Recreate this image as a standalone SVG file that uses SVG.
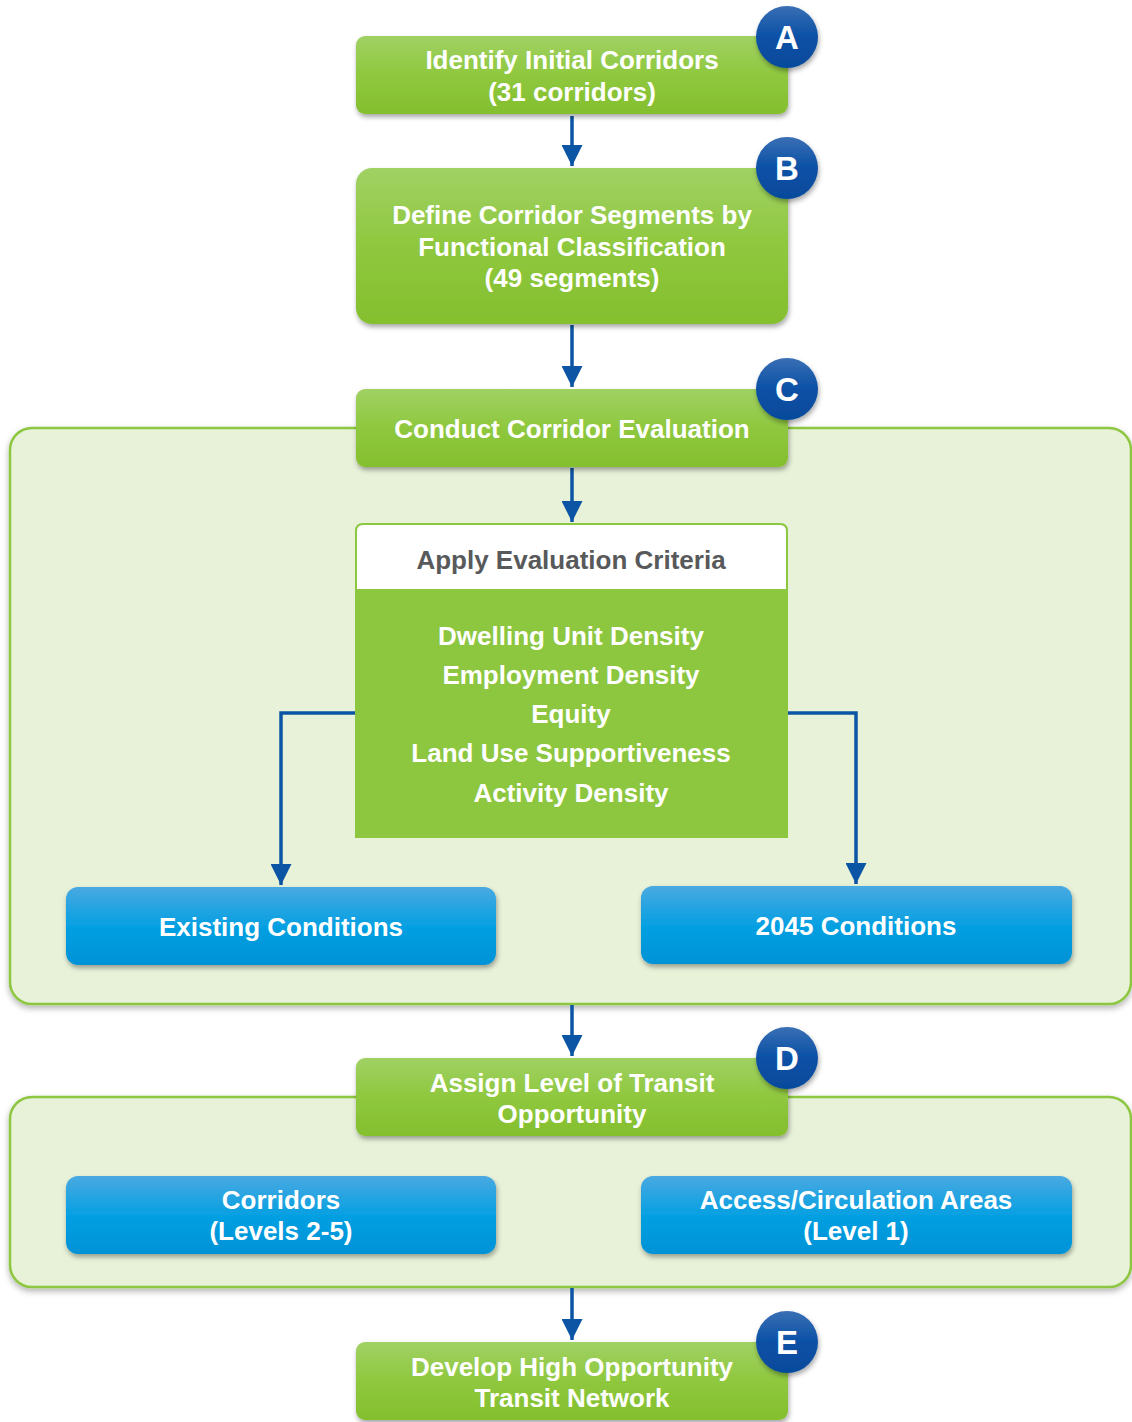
<svg xmlns="http://www.w3.org/2000/svg" width="1132" height="1422" viewBox="0 0 1132 1422">
<defs>
<linearGradient id="gGreen" x1="0" y1="0" x2="0" y2="1"><stop offset="0" stop-color="#a0d164"/><stop offset="0.5" stop-color="#8fc83e"/><stop offset="1" stop-color="#84bf2e"/></linearGradient>
<linearGradient id="gBlue" x1="0" y1="0" x2="0" y2="1"><stop offset="0" stop-color="#4aa9e1"/><stop offset="0.5" stop-color="#06a0e2"/><stop offset="1" stop-color="#0092d6"/></linearGradient>
<linearGradient id="gBadge" x1="0" y1="0" x2="0" y2="1"><stop offset="0" stop-color="#3a6fb5"/><stop offset="0.5" stop-color="#0a50a5"/><stop offset="1" stop-color="#064a9c"/></linearGradient>
<filter id="sh" x="-10%" y="-20%" width="120%" height="150%"><feDropShadow dx="1" dy="3" stdDeviation="2.5" flood-color="#000" flood-opacity="0.35"/></filter>
<filter id="shc" x="-10%" y="-10%" width="120%" height="130%"><feDropShadow dx="0" dy="3" stdDeviation="3" flood-color="#000" flood-opacity="0.3"/></filter>
<marker id="arr" viewBox="0 0 10 10" refX="10" refY="5" markerWidth="6" markerHeight="6" markerUnits="strokeWidth" orient="auto"><path d="M0,0 L10,5 L0,10 z" fill="#0b55a4"/></marker>
</defs>
<style>
.cont{fill:#e8f2d9;stroke:#8dc63f;stroke-width:2.5}
.gbox{fill:url(#gGreen)}
.bbox{fill:url(#gBlue)}
.t{font-family:"Liberation Sans",Arial,sans-serif;font-weight:bold;font-size:26px;fill:#fff;text-anchor:middle}
.hd{font-family:"Liberation Sans",Arial,sans-serif;font-weight:bold;font-size:26px;fill:#58595b;text-anchor:middle}
.bd{fill:url(#gBadge)}
.bl{font-family:"Liberation Sans",Arial,sans-serif;font-weight:bold;font-size:33px;fill:#fff;text-anchor:middle}
.con{fill:none;stroke:#0b55a4;stroke-width:3.5}
</style>
<g id="container1"><rect class="cont" x="10" y="428" width="1121" height="576" rx="22" filter="url(#shc)"/></g>
<g id="container2"><rect class="cont" x="10" y="1097" width="1121" height="190" rx="22" filter="url(#shc)"/></g>
<g id="connectors">
<line class="con" x1="572" y1="116" x2="572" y2="166" marker-end="url(#arr)"/>
<line class="con" x1="572" y1="325" x2="572" y2="387" marker-end="url(#arr)"/>
<line class="con" x1="572" y1="468" x2="572" y2="522" marker-end="url(#arr)"/>
<polyline class="con" points="356,713 281,713 281,885" marker-end="url(#arr)"/>
<polyline class="con" points="788,713 856,713 856,884" marker-end="url(#arr)"/>
<line class="con" x1="572" y1="1005" x2="572" y2="1056" marker-end="url(#arr)"/>
<line class="con" x1="572" y1="1288" x2="572" y2="1340" marker-end="url(#arr)"/>
</g>
<g id="nodeA"><rect class="gbox" x="356" y="36" width="432" height="78" rx="9" filter="url(#sh)"/>
<text class="t" x="572" y="69">Identify Initial Corridors</text><text class="t" x="572" y="101">(31 corridors)</text></g>
<g id="nodeB"><rect class="gbox" x="356" y="168" width="432" height="156" rx="16" filter="url(#sh)"/>
<text class="t" x="572" y="224">Define Corridor Segments by</text><text class="t" x="572" y="256">Functional Classification</text><text class="t" x="572" y="287">(49 segments)</text></g>
<g id="nodeC"><rect class="gbox" x="356" y="389" width="432" height="78" rx="9" filter="url(#sh)"/>
<text class="t" x="572" y="438">Conduct Corridor Evaluation</text></g>
<g id="criteria"><path d="M356,837 L356,531 Q356,524 363,524 L780,524 Q787,524 787,531 L787,837 Z" fill="#fff" stroke="#8dc63f" stroke-width="2"/>
<rect x="355" y="589" width="433" height="248" fill="#8dc63f"/>
<text class="hd" x="571" y="569">Apply Evaluation Criteria</text>
<text class="t" x="571" y="645">Dwelling Unit Density</text>
<text class="t" x="571" y="684">Employment Density</text>
<text class="t" x="571" y="723">Equity</text>
<text class="t" x="571" y="762">Land Use Supportiveness</text>
<text class="t" x="571" y="802">Activity Density</text></g>
<g id="existing"><rect class="bbox" x="66" y="887" width="430" height="78" rx="12" filter="url(#sh)"/>
<text class="t" x="281" y="936">Existing Conditions</text></g>
<g id="cond2045"><rect class="bbox" x="641" y="886" width="431" height="78" rx="12" filter="url(#sh)"/>
<text class="t" x="856" y="935">2045 Conditions</text></g>
<g id="nodeD"><rect class="gbox" x="356" y="1058" width="432" height="78" rx="9" filter="url(#sh)"/>
<text class="t" x="572" y="1092">Assign Level of Transit</text><text class="t" x="572" y="1123">Opportunity</text></g>
<g id="corridors"><rect class="bbox" x="66" y="1176" width="430" height="78" rx="12" filter="url(#sh)"/>
<text class="t" x="281" y="1209">Corridors</text><text class="t" x="281" y="1240">(Levels 2-5)</text></g>
<g id="access"><rect class="bbox" x="641" y="1176" width="431" height="78" rx="12" filter="url(#sh)"/>
<text class="t" x="856" y="1209">Access/Circulation Areas</text><text class="t" x="856" y="1240">(Level 1)</text></g>
<g id="nodeE"><rect class="gbox" x="356" y="1342" width="432" height="78" rx="9" filter="url(#sh)"/>
<text class="t" x="572" y="1376">Develop High Opportunity</text><text class="t" x="572" y="1407">Transit Network</text></g>
<g id="badgeA"><circle class="bd" cx="787" cy="37" r="31" filter="url(#sh)"/><text class="bl" x="787" y="49">A</text></g>
<g id="badgeB"><circle class="bd" cx="787" cy="168" r="31" filter="url(#sh)"/><text class="bl" x="787" y="180">B</text></g>
<g id="badgeC"><circle class="bd" cx="787" cy="389" r="31" filter="url(#sh)"/><text class="bl" x="787" y="401">C</text></g>
<g id="badgeD"><circle class="bd" cx="787" cy="1058" r="31" filter="url(#sh)"/><text class="bl" x="787" y="1070">D</text></g>
<g id="badgeE"><circle class="bd" cx="787" cy="1342" r="31" filter="url(#sh)"/><text class="bl" x="787" y="1354">E</text></g>
</svg>
